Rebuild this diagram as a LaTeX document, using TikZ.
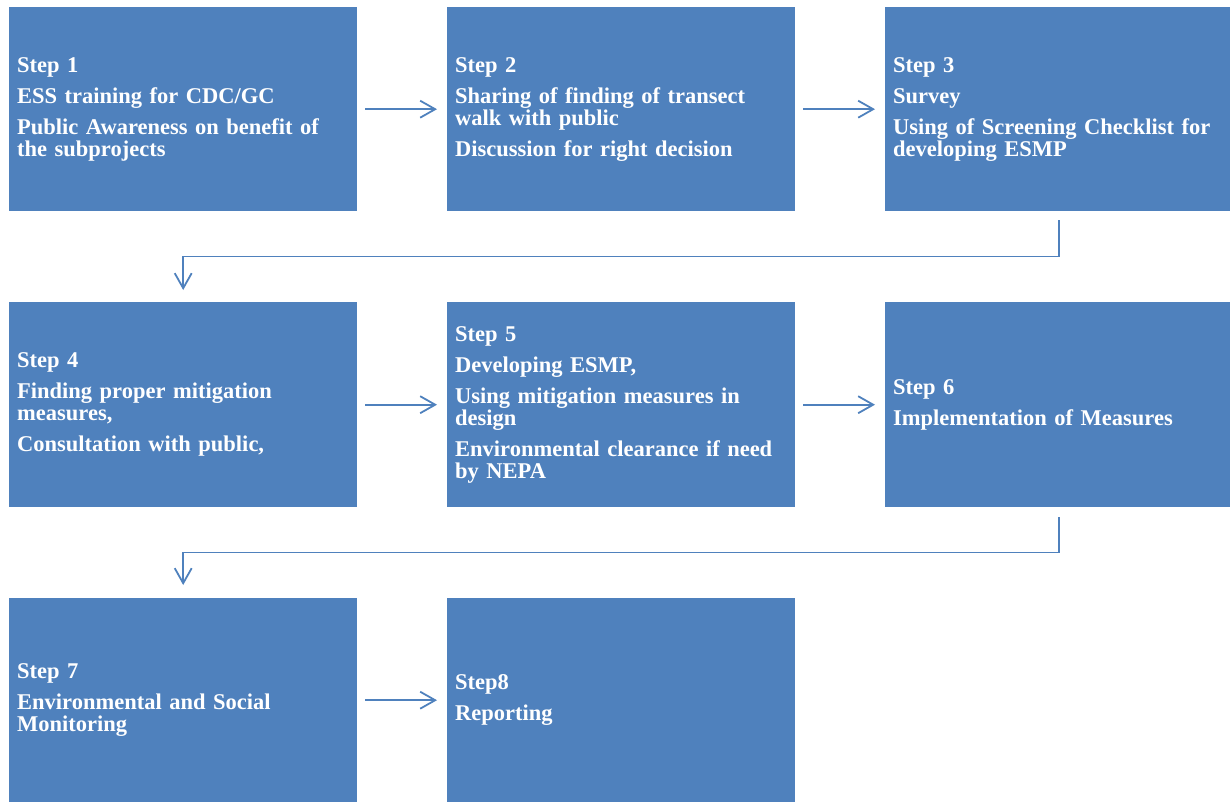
\documentclass[tikz,border=0pt]{standalone}
\usepackage{fontspec}
\setmainfont{Liberation Serif}
\usetikzlibrary{arrows.meta,positioning}
\definecolor{boxblue}{HTML}{4F81BD}
\tikzset{
  stepbox/.style={fill=boxblue, text=white, anchor=north west,
    minimum width=348pt, minimum height=204pt, text width=332pt,
    inner sep=8pt, align=left, font=\bfseries\fontsize{22.5}{22}\selectfont},
  flow/.style={draw=boxblue, line width=1.8pt,
    -{Straight Barb[length=15pt,width=17pt]}},
}

\begin{document}
\begin{tikzpicture}[x=1pt,y=-1pt]
\useasboundingbox (0,0) rectangle (1230,802);
% first row
\node[stepbox] (s1) at (9,7) {Step 1\\[9pt]ESS training for CDC/GC\\[9pt]Public Awareness on benefit of\\the subprojects};
\node[stepbox] (s2) at (447,7) {Step 2\\[9pt]Sharing of finding of transect\\walk with public\\[9pt]Discussion for right decision};
\node[stepbox] (s3) at (885,7) {Step 3\\[9pt]Survey\\[9pt]Using of Screening Checklist for\\developing ESMP};
% second row
\node[stepbox, minimum height=205pt] (s4) at (9,302) {Step 4\\[9pt]Finding proper mitigation\\measures,\\[9pt]Consultation with public,};
\node[stepbox, minimum height=205pt] (s5) at (447,302) {Step 5\\[9pt]Developing ESMP,\\[9pt]Using mitigation measures in\\design\\[9pt]Environmental clearance if need\\by NEPA};
\node[stepbox, minimum height=205pt] (s6) at (885,302) {Step 6\\[9pt]Implementation of Measures};
% third row
\node[stepbox] (s7) at (9,598) {Step 7\\[9pt]Environmental and Social\\Monitoring};
\node[stepbox] (s8) at (447,598) {Step8\\[9pt]Reporting};
% arrows
\draw[flow] ([xshift=8pt]s1.east) -- ([xshift=-10pt]s2.west);
\draw[flow] ([xshift=8pt]s2.east) -- ([xshift=-10pt]s3.west);
\draw[flow] ([yshift=-9pt]s3.south) -- ++(0,36) -| ([yshift=12pt]s4.north);
\draw[flow] ([xshift=8pt]s4.east) -- ([xshift=-10pt]s5.west);
\draw[flow] ([xshift=8pt]s5.east) -- ([xshift=-10pt]s6.west);
\draw[flow] ([yshift=-10pt]s6.south) -- ++(0,35) -| ([yshift=13pt]s7.north);
\draw[flow] ([xshift=8pt]s7.east) -- ([xshift=-10pt]s8.west);
\end{tikzpicture}
\end{document}
